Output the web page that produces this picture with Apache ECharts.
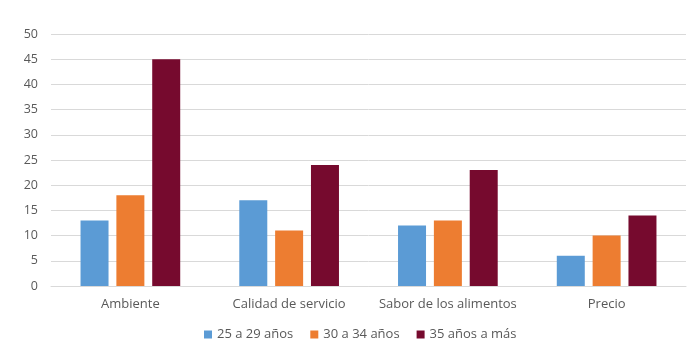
<!DOCTYPE html>
<html>
<head>
<meta charset="utf-8">
<script src="https://cdn.jsdelivr.net/npm/echarts@6/dist/echarts.min.js"></script>
<style>html,body{margin:0;padding:0;background:#fff}#c{width:692px;height:354px}</style>
</head>
<body>
<div id="c"></div>
<script>
var categories = ['Ambiente', 'Calidad de servicio', 'Sabor de los alimentos', 'Precio'];
var seriesNames = ['25 a 29 años', '30 a 34 años', '35 años a más'];
var s25a29 = [13, 17, 12, 6];
var s30a34 = [18, 11, 13, 10];
var s35mas = [45, 24, 23, 14];
var colors = ['#5B9BD5', '#ED7D31', '#760A2E'];

var chart = echarts.init(document.getElementById('c'));
var font = 'Open Sans, Liberation Sans, sans-serif';
var mk = function (name, data, i) {
  return { name: name, type: 'bar', data: data, barWidth: 28, barGap: '28%',
    itemStyle: { color: colors[i] } };
};
chart.setOption({
  animation: false,
  textStyle: { fontFamily: font },
  grid: { left: 51, right: 6, top: 34, bottom: 68 },
  legend: {
    bottom: 8, left: 199, itemWidth: 8, itemHeight: 8, itemGap: 17,
    icon: 'rect', textStyle: { fontSize: 13, color: '#595959', fontFamily: font },
    data: seriesNames
  },
  xAxis: {
    type: 'category', data: categories,
    axisLine: { lineStyle: { color: '#D9D9D9' } },
    axisTick: { show: false },
    axisLabel: { fontSize: 13, color: '#595959', margin: 12, interval: 0 }
  },
  yAxis: {
    type: 'value', min: 0, max: 50, interval: 5,
    axisLine: { show: false }, axisTick: { show: false },
    axisLabel: { fontSize: 12.5, color: '#595959', margin: 13 },
    splitLine: { lineStyle: { color: '#D9D9D9' } }
  },
  series: [mk(seriesNames[0], s25a29, 0), mk(seriesNames[1], s30a34, 1), mk(seriesNames[2], s35mas, 2)]
});
</script>
</body>
</html>
